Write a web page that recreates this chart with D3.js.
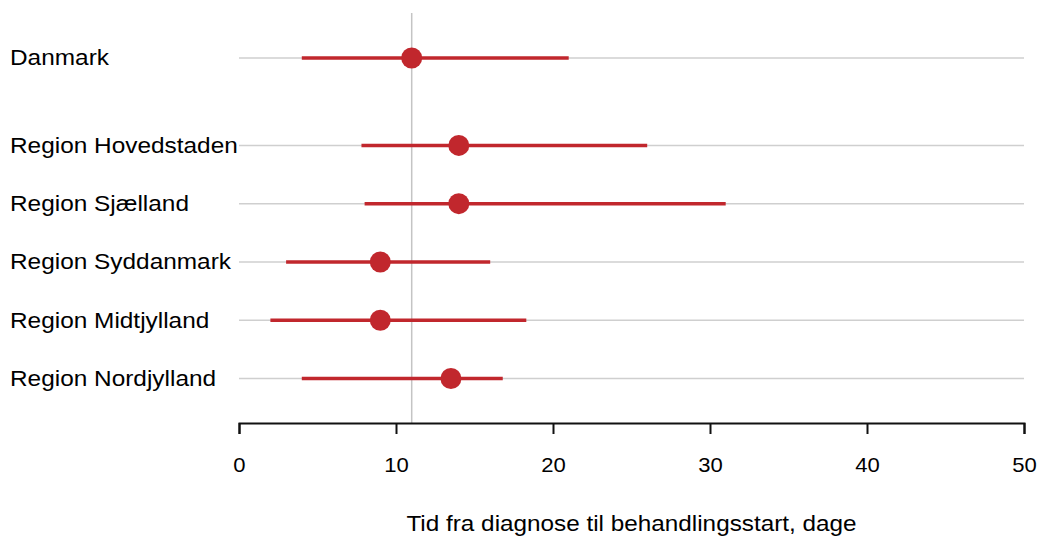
<!DOCTYPE html>
<html>
<head>
<meta charset="utf-8">
<script src="https://cdn.jsdelivr.net/npm/d3@7"></script>
<style>
  html, body { margin: 0; padding: 0; background: #fff; }
  svg { display: block; font-family: "Liberation Sans", Arial, sans-serif; }
</style>
</head>
<body>
<svg id="chart"></svg>
<script>
// Data (days)
const labels = ["Danmark", "Region Hovedstaden", "Region Sjælland", "Region Syddanmark", "Region Midtjylland", "Region Nordjylland"];
const medians = [11, 14, 14, 9, 9, 13.5];
const lower = [4, 7.8, 8, 3, 2, 4];
const upper = [21, 26, 31, 16, 18.3, 16.8];
const refValue = 11;
const xTicks = [0, 10, 20, 30, 40, 50];
const xTitle = "Tid fra diagnose til behandlingsstart, dage";

const width = 1040;
const height = 537;
const margin = { top: 13, left: 239, right: 16, axisY: 423 };
const red = "#c1272d";
const stretch = 1.13; // text in the picture is a bit wider than it is tall

const rows = labels.map((name, i) => ({
  name: name,
  median: medians[i],
  lo: lower[i],
  hi: upper[i],
  // leave a half-row gap after the national total
  slot: i === 0 ? 0 : i + 0.5,
}));

const svg = d3.select("#chart").attr("width", width).attr("height", height);

const x = d3.scaleLinear().domain([0, 50]).range([margin.left, width - margin.right]);
const y = d3.scaleLinear().domain([0, 5.5]).range([58, 378.5]);

// horizontal grid lines for each row
svg.append("g")
  .selectAll("line")
  .data(rows)
  .join("line")
  .attr("x1", x(0))
  .attr("x2", x(50))
  .attr("y1", (d) => y(d.slot))
  .attr("y2", (d) => y(d.slot))
  .attr("stroke", "#cfcfcf")
  .attr("stroke-width", 1.5);

// reference line at the national median
svg.append("line")
  .attr("x1", x(refValue))
  .attr("x2", x(refValue))
  .attr("y1", margin.top)
  .attr("y2", margin.axisY)
  .attr("stroke", "#c4c4c4")
  .attr("stroke-width", 1.5);

// intervals
svg.append("g")
  .selectAll("line")
  .data(rows)
  .join("line")
  .attr("x1", (d) => x(d.lo))
  .attr("x2", (d) => x(d.hi))
  .attr("y1", (d) => y(d.slot))
  .attr("y2", (d) => y(d.slot))
  .attr("stroke", red)
  .attr("stroke-width", 3.5);

// medians
svg.append("g")
  .selectAll("circle")
  .data(rows)
  .join("circle")
  .attr("cx", (d) => x(d.median))
  .attr("cy", (d) => y(d.slot))
  .attr("r", 10.5)
  .attr("fill", red);

// row labels
svg.append("g")
  .selectAll("text")
  .data(rows)
  .join("text")
  .attr("transform", (d) => `translate(10,${y(d.slot)}) scale(${stretch},1)`)
  .attr("dominant-baseline", "central")
  .attr("font-size", "21.6px")
  .attr("fill", "#000")
  .text((d) => d.name);

// x axis
const axis = svg.append("g")
  .attr("transform", `translate(0,${margin.axisY})`)
  .call(d3.axisBottom(x).tickValues(xTicks).tickSize(11).tickSizeOuter(11).tickPadding(23));

axis.select(".domain").attr("stroke", "#111").attr("stroke-width", 2);
axis.selectAll(".tick line").attr("stroke", "#111").attr("stroke-width", 2);
axis.selectAll(".tick text")
  .attr("font-size", "21px")
  .attr("font-family", "Liberation Sans, Arial, sans-serif")
  .attr("fill", "#000")
  .attr("transform", "scale(1.05,1)");

// axis title
svg.append("text")
  .attr("transform", `translate(${(408 + 855) / 2},524) scale(${stretch},1)`)
  .attr("text-anchor", "middle")
  .attr("dominant-baseline", "central")
  .attr("font-size", "21.5px")
  .attr("fill", "#000")
  .text(xTitle);
</script>
</body>
</html>
